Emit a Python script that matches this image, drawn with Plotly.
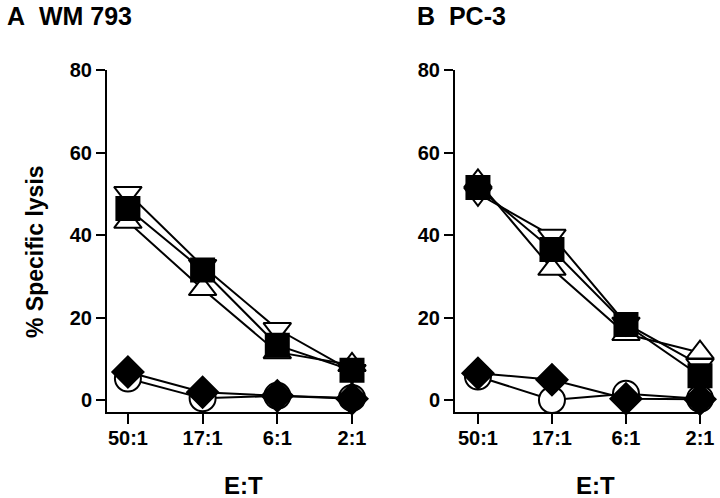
import plotly.graph_objects as go

W, H = 720, 498

et_labels = ["50:1", "17:1", "6:1", "2:1"]
y_ticks = [0, 20, 40, 60, 80]

# Panel A: WM 793
a_tri_up = [43.2, 26.9, 11.6, 8.5]
a_tri_down = [50.2, 32.5, 17.2, 7.0]
a_circle = [5.2, 0.4, 1.0, 0.5]
a_diamond = [6.8, 1.9, 1.0, 0.3]
a_square = [46.4, 31.5, 13.3, 7.2]

# Panel B: PC-3
b_tri_up = [53.0, 31.8, 16.0, 11.5]
b_tri_down = [50.0, 39.8, 18.5, 8.5]
b_circle = [5.7, 0.0, 1.5, 0.3]
b_diamond = [6.5, 4.9, 0.3, 0.2]
b_square = [51.5, 36.5, 18.3, 5.9]

FONT = "Arial, Liberation Sans, sans-serif"

series_style = [
    ("triangle-up", "white", 24),
    ("triangle-down", "white", 24),
    ("circle", "white", 26),
    ("diamond", "black", 24),
    ("square", "black", 23),
]

fig = go.Figure()
xpos = list(range(len(et_labels)))

def add_panel(data, xa, ya):
    for vals, (sym, fill, size) in zip(data, series_style):
        fig.add_trace(go.Scatter(
            x=xpos, y=vals, mode="lines+markers",
            line=dict(color="black", width=2),
            marker=dict(symbol=sym, size=size, color=fill,
                        line=dict(color="black", width=2)),
            cliponaxis=False, showlegend=False, hoverinfo="skip",
            xaxis=xa, yaxis=ya))

add_panel([a_tri_up, a_tri_down, a_circle, a_diamond, a_square], "x", "y")
add_panel([b_tri_up, b_tri_down, b_circle, b_diamond, b_square], "x2", "y2")

xcommon = dict(tickmode="array", tickvals=xpos, ticktext=et_labels,
               showline=True, linecolor="black", linewidth=2,
               ticks="outside", ticklen=10, tickwidth=2, tickcolor="black",
               ticklabelstandoff=-3,
               showgrid=False, zeroline=False, automargin=False,
               tickfont=dict(family=FONT, size=20, color="black", weight="bold"))
ycommon = dict(tickmode="array", tickvals=y_ticks,
               range=[-2.91, 80],
               domain=[86 / H, 428 / H],
               showline=True, linecolor="black", linewidth=2,
               ticks="outside", ticklen=9, tickwidth=2, tickcolor="black",
               showgrid=False, zeroline=False, automargin=False,
               tickfont=dict(family=FONT, size=20, color="black", weight="bold"))

fig.update_layout(
    width=W, height=H, autosize=False,
    margin=dict(l=0, r=0, t=0, b=0, pad=0, autoexpand=False),
    paper_bgcolor="white", plot_bgcolor="white",
    xaxis=dict(domain=[107 / W, 352 / W], range=[-0.28, 3], anchor="y", **xcommon),
    yaxis=dict(anchor="x", **ycommon),
    xaxis2=dict(domain=[455 / W, 700 / W], range=[-0.31, 3], anchor="y2", **xcommon),
    yaxis2=dict(anchor="x2", **ycommon),
)

def ann(text, x, y, size, angle=0, xanchor="center"):
    fig.add_annotation(text=text, x=x / W, y=1 - y / H, xref="paper", yref="paper",
                       showarrow=False, textangle=angle, xanchor=xanchor, yanchor="middle",
                       font=dict(family=FONT, size=size, color="black", weight="bold"))

ann("A\u00a0\u00a0WM 793", 5, 16, 25, xanchor="left")
ann("B\u00a0\u00a0PC-3", 415, 16, 25, xanchor="left")
ann("% Specific lysis", 35, 252, 23, angle=-90)
ann("E:T", 243, 485, 24)
ann("E:T", 595, 485, 24)

fig.write_html("out.html", config={"displayModeBar": False},
               post_script="document.body.style.margin='0';document.body.style.overflow='hidden';")
